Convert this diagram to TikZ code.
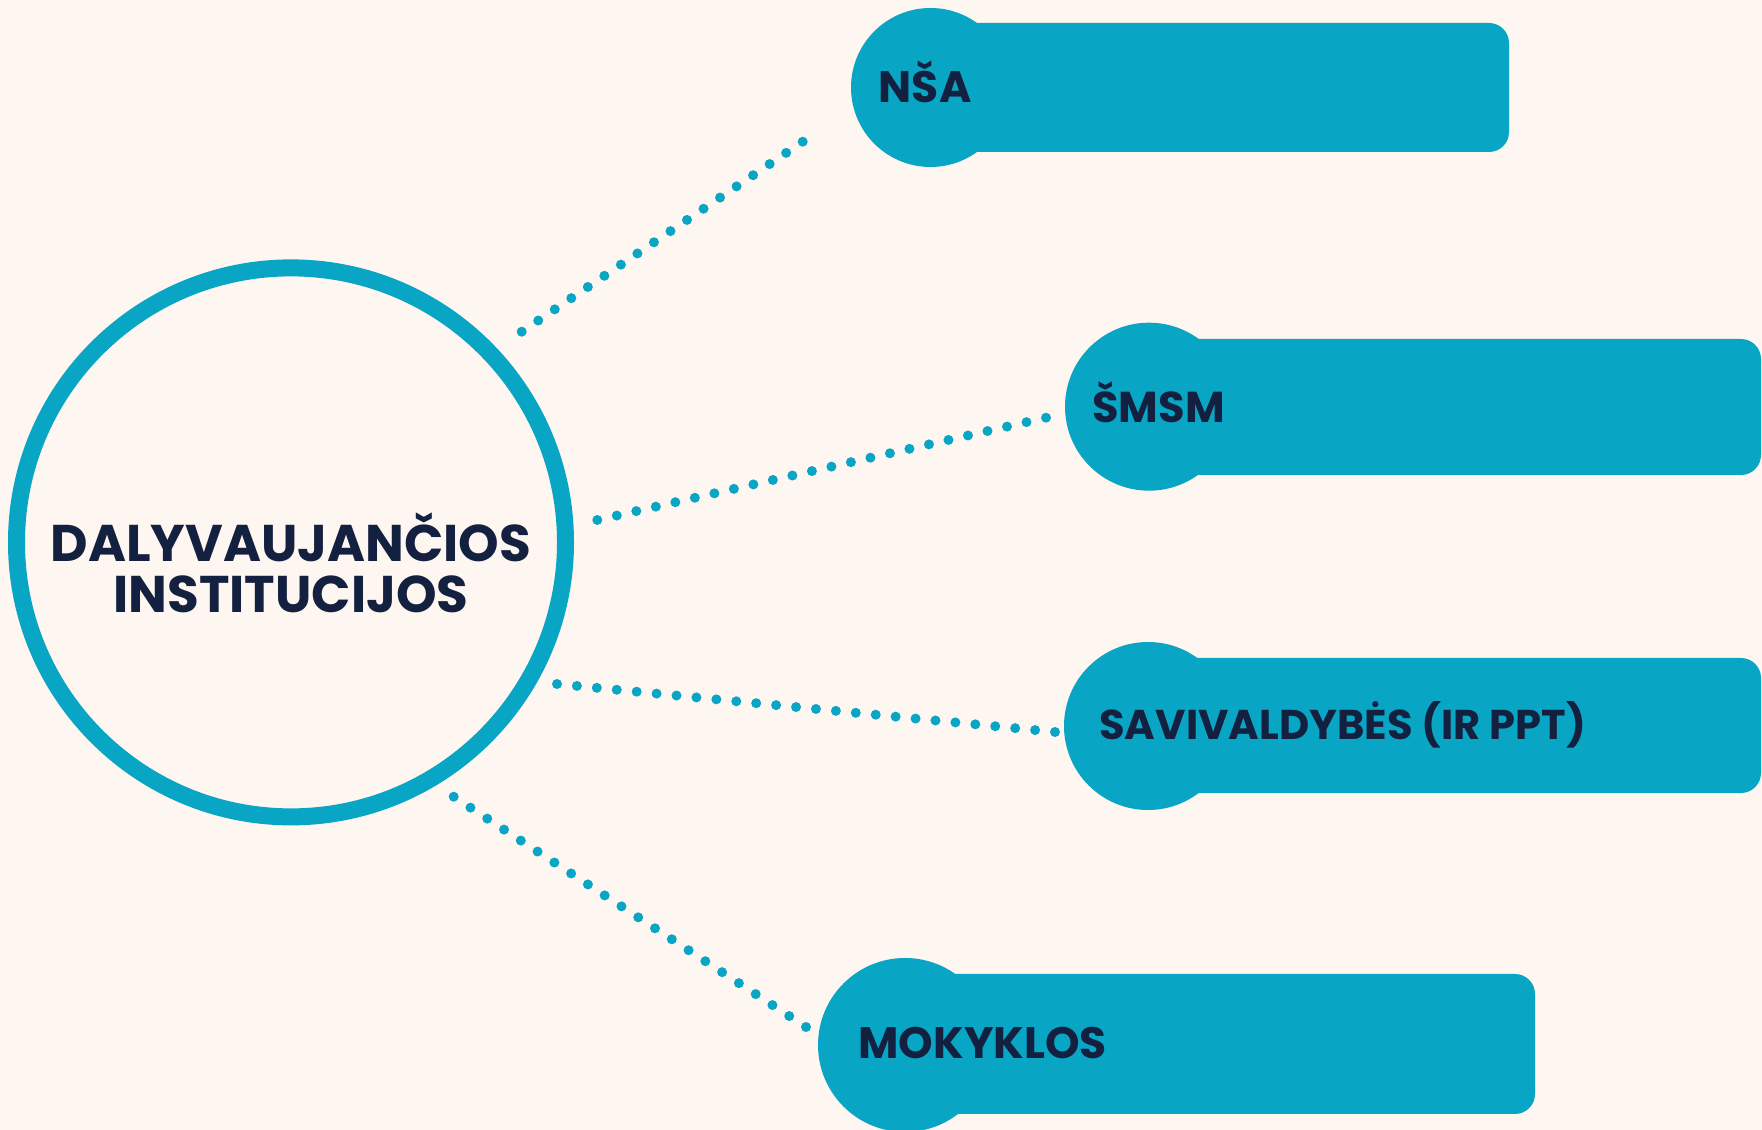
\documentclass[tikz,border=0pt]{standalone}
\usepackage{fontspec}
\setmainfont{Poppins}
\usetikzlibrary{calc}
\definecolor{turkis}{HTML}{09A5C4}
\definecolor{tamsi}{HTML}{13203F}
\definecolor{fonas}{HTML}{FEF6F0}
\tikzset{taskas/.style={fill=turkis}}

\begin{document}
\begin{tikzpicture}[x=0.5pt,y=0.5pt,
    centras/.style={circle,draw=turkis,line width=8.5pt,fill=fonas,
                    minimum size=274.5pt,inner sep=0pt},
    galva/.style={circle,fill=turkis,inner sep=0pt,minimum size=#1},
    juosta/.style={fill=turkis,rounded corners=10pt},
    pavad/.style={text=tamsi,inner sep=0pt,anchor=base west,
                  font=\bfseries\fontsize{#1}{#1}\selectfont}]

    % Fonas
    \fill [fonas] (0,0) rectangle (1762,1130);
    \useasboundingbox (0,0) rectangle (1762,1130);

    % Didysis apskritimas
    \node [centras] (inst) at (291,587.6) {};
    \node [text=tamsi, align=center, inner sep=0pt, anchor=base,
           font=\bfseries\fontsize{25.8}{25.2}\selectfont]
        (insttxt) at ($(inst.center)+(0,-70)$)
        {DALYVAUJANČIOS\\INSTITUCIJOS};

    % NŠA
    \fill [juosta] (930,978) rectangle (1509,1107);
    \node [galva=79.5pt] (nsa) at (930.5,1042.5) {};
    \node [pavad=22] (nsatxt) at ($(nsa.center)+(-52,-15.2)$) {NŠA};

    % ŠMSM
    \fill [juosta] (1149,655) rectangle (1761,791);
    \node [galva=84pt] (smsm) at (1149,723.3) {};
    \node [pavad=21.6] (smsmtxt) at ($(smsm.center)+(-57,-15.4)$) {ŠMSM};

    % Savivaldybės
    \fill [juosta] (1148,337) rectangle (1761,472);
    \node [galva=84pt] (savi) at (1148,404) {};
    \node [pavad=20.8] (savitxt) at ($(savi.center)+(-49,-13.5)$) {SAVIVALDYBĖS (IR PPT)};

    % Mokyklos
    \fill [juosta] (905,16) rectangle (1535,156);
    \node [galva=87pt] (moky) at (905,85) {};
    \node [pavad=22] (mokytxt) at ($(moky.center)+(-47,-14)$) {MOKYKLOS};

    % Taškuotos jungtys
    \coordinate (k1a) at ($(inst.center)+(230.7,210.7)$);
    \coordinate (k1b) at ($(nsa.center)+(-127.8,-54.2)$);
    \coordinate (k2a) at ($(inst.center)+(306.3,22.4)$);
    \coordinate (k2b) at ($(smsm.center)+(-103,-11)$);
    \coordinate (k3a) at ($(inst.center)+(266,-141.6)$);
    \coordinate (k3b) at ($(savi.center)+(-93,-6)$);
    \coordinate (k4a) at ($(inst.center)+(162.7,-254.3)$);
    \coordinate (k4b) at ($(moky.center)+(-99,18)$);

    \foreach \a/\b/\n in {k1a/k1b/17,k2a/k2b/23,k3a/k3b/25,k4a/k4b/21}
        \foreach \i in {0,...,\n}
            \fill [taskas] ($(\a)!\i/\n!(\b)$) circle (5);

\end{tikzpicture}
\end{document}
